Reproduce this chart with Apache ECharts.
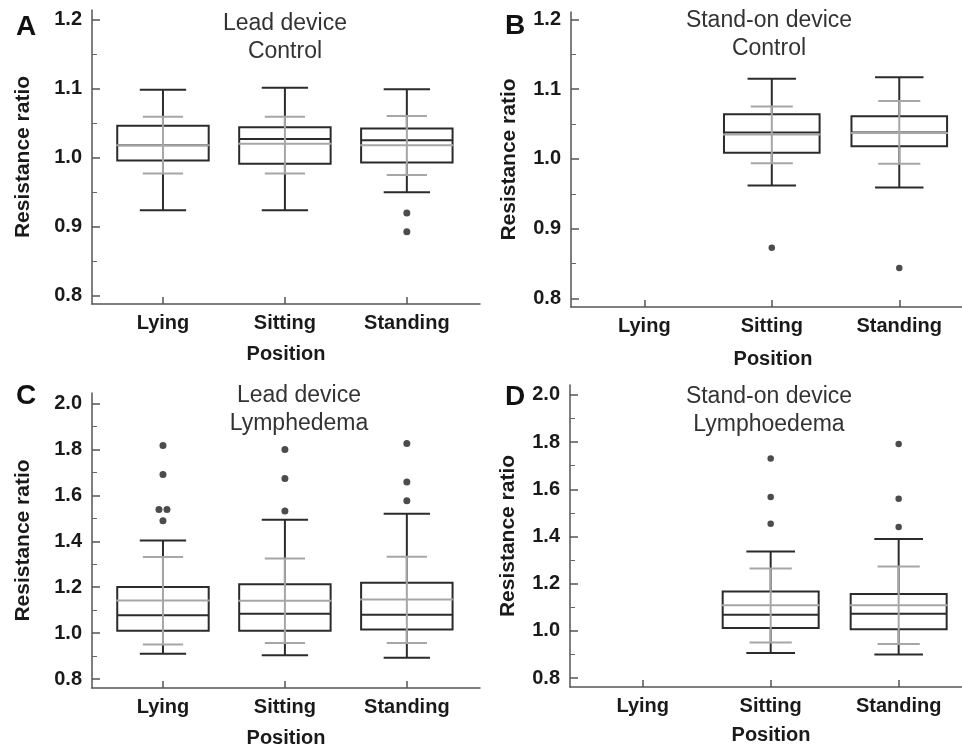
<!DOCTYPE html>
<html>
<head>
<meta charset="utf-8">
<script src="https://cdn.jsdelivr.net/npm/echarts@6/dist/echarts.min.js"></script>
<style>
html,body{margin:0;padding:0;background:#fff;}
#chart{width:962px;height:749px;}
</style>
</head>
<body>
<div id="chart"></div>
<script>
// ---- categories and tick labels ----
const categories = ['Lying', 'Sitting', 'Standing'];
const ticksControl = [0.8, 0.9, 1.0, 1.1, 1.2];
const minorControl = [0.85, 0.95, 1.05, 1.15];
const ticksLymph = [0.8, 1.0, 1.2, 1.4, 1.6, 1.8, 2.0];
const minorLymph = [0.9, 1.1, 1.3, 1.5, 1.7, 1.9];

// ---- Panel A: Lead device, Control (Lying, Sitting, Standing) ----
const aPos = [1, 2, 3];
const aLowWhisker = [0.924, 0.924, 0.950];
const aSdLow = [0.977, 0.977, 0.975];
const aQ1 = [0.996, 0.991, 0.993];
const aMedian = [1.018, 1.027, 1.025];
const aMean = [1.018, 1.020, 1.018];
const aQ3 = [1.046, 1.044, 1.042];
const aSdHigh = [1.059, 1.059, 1.060];
const aHighWhisker = [1.098, 1.101, 1.099];
const aOutliers = [[], [], [0.920, 0.893]];

// ---- Panel B: Stand-on device, Control (Sitting, Standing) ----
const bPos = [2, 3];
const bLowWhisker = [0.962, 0.959];
const bSdLow = [0.994, 0.993];
const bQ1 = [1.009, 1.018];
const bMedian = [1.038, 1.038];
const bMean = [1.035, 1.037];
const bQ3 = [1.064, 1.061];
const bSdHigh = [1.075, 1.083];
const bHighWhisker = [1.115, 1.117];
const bOutliers = [[0.873], [0.844]];

// ---- Panel C: Lead device, Lymphedema ----
const cPos = [1, 2, 3];
const cLowWhisker = [0.910, 0.904, 0.893];
const cSdLow = [0.951, 0.957, 0.957];
const cQ1 = [1.010, 1.010, 1.016];
const cMedian = [1.078, 1.084, 1.080];
const cMean = [1.142, 1.141, 1.146];
const cQ3 = [1.201, 1.213, 1.219];
const cSdHigh = [1.332, 1.325, 1.333];
const cHighWhisker = [1.403, 1.494, 1.520];
const cOutliers = [[1.817, 1.691, 1.539, 1.539, 1.490], [1.800, 1.674, 1.532], [1.826, 1.658, 1.577]];

// ---- Panel D: Stand-on device, Lymphoedema ----
const dPos = [2, 3];
const dLowWhisker = [0.906, 0.900];
const dSdLow = [0.951, 0.944];
const dQ1 = [1.012, 1.007];
const dMedian = [1.068, 1.072];
const dMean = [1.108, 1.108];
const dQ3 = [1.167, 1.156];
const dSdHigh = [1.264, 1.273];
const dHighWhisker = [1.336, 1.389];
const dOutliers = [[1.730, 1.567, 1.454], [1.792, 1.560, 1.440]];

// ---- build helpers ----
function boxRows(pos, lo, sdl, q1, med, mean, q3, sdh, hi) {
  return pos.map((p, i) => [p, lo[i], sdl[i], q1[i], med[i], mean[i], q3[i], sdh[i], hi[i]]);
}
function outlierRows(pos, outs, spread) {
  const rows = [];
  pos.forEach((p, i) => {
    const vals = outs[i];
    vals.forEach((v, j) => {
      const same = vals.filter(w => w === v);
      const k = vals.slice(0, j).filter(w => w === v).length;
      const off = same.length > 1 ? (k - (same.length - 1) / 2) * spread : 0;
      rows.push({ value: [p, v], symbolOffset: [off, 0] });
    });
  });
  return rows;
}

const BLACK = '#2b2b2b';
const GRAY = '#a6a6a6';
const FONT = '"Liberation Sans", Arial, Helvetica, sans-serif';

function renderBox(params, api) {
  const x = api.value(0);
  const unit = api.size([1, 0])[0];
  const bw = unit * 0.375, ww = unit * 0.19, gw = unit * 0.165;
  const cx = api.coord([x, api.value(1)])[0];
  const y = i => api.coord([x, api.value(i)])[1];
  const blk = { stroke: BLACK, lineWidth: 2 };
  const gry = { stroke: GRAY, lineWidth: 2 };
  const hl = (yy, w, st) => ({ type: 'line', shape: { x1: cx - w, y1: yy, x2: cx + w, y2: yy }, style: st });
  return {
    type: 'group',
    children: [
      { type: 'line', shape: { x1: cx, y1: y(1), x2: cx, y2: y(8) }, style: blk },
      hl(y(1), ww, blk),
      hl(y(8), ww, blk),
      { type: 'rect', shape: { x: cx - bw, y: y(6), width: 2 * bw, height: y(3) - y(6) }, style: { fill: '#fff', stroke: BLACK, lineWidth: 2 } },
      hl(y(4), bw, blk),
      { type: 'line', shape: { x1: cx, y1: y(2), x2: cx, y2: y(7) }, style: gry },
      hl(y(2), gw, gry),
      hl(y(7), gw, gry),
      hl(y(5), bw + 1, gry)
    ]
  };
}

const panels = [
  { grid: { left: 92, top: 10, width: 388, height: 294 }, xr: [0.418, 3.6], yr: [0.7884, 1.2134],
    ticks: ticksControl, minor: minorControl, pos: aPos,
    box: boxRows(aPos, aLowWhisker, aSdLow, aQ1, aMedian, aMean, aQ3, aSdHigh, aHighWhisker),
    out: outlierRows(aPos, aOutliers, 8), dot: 7, xGap: 40, yGap: 58 },
  { grid: { left: 571, top: 12, width: 404, height: 295 }, xr: [0.425, 3.594], yr: [0.788, 1.2104],
    ticks: ticksControl, minor: minorControl, pos: bPos,
    box: boxRows(bPos, bLowWhisker, bSdLow, bQ1, bMedian, bMean, bQ3, bSdHigh, bHighWhisker),
    out: outlierRows(bPos, bOutliers, 8), dot: 6.5, xGap: 42, yGap: 51 },
  { grid: { left: 92, top: 393, width: 388, height: 295 }, xr: [0.418, 3.6], yr: [0.761, 2.046],
    ticks: ticksLymph, minor: minorLymph, pos: cPos,
    box: boxRows(cPos, cLowWhisker, cSdLow, cQ1, cMedian, cMean, cQ3, cSdHigh, cHighWhisker),
    out: outlierRows(cPos, cOutliers, 8), dot: 7, xGap: 40, yGap: 58 },
  { grid: { left: 570, top: 385, width: 402, height: 302 }, xr: [0.432, 3.573], yr: [0.762, 2.042],
    ticks: ticksLymph, minor: minorLymph, pos: dPos,
    box: boxRows(dPos, dLowWhisker, dSdLow, dQ1, dMedian, dMean, dQ3, dSdHigh, dHighWhisker),
    out: outlierRows(dPos, dOutliers, 8), dot: 6.5, xGap: 38, yGap: 51 }
];

const grids = [], xAxes = [], yAxes = [], series = [];
panels.forEach((p, i) => {
  grids.push(Object.assign({ containLabel: false, outerBoundsMode: 'none' }, p.grid));
  xAxes.push({
    type: 'value', gridIndex: i, min: p.xr[0], max: p.xr[1],
    name: 'Position', nameLocation: 'middle', nameGap: p.xGap,
    nameTextStyle: { fontFamily: FONT, fontSize: 20, fontWeight: 'bold', color: '#1a1a1a' },
    axisLine: { show: true, onZero: false, lineStyle: { color: '#555', width: 1.5 } },
    axisTick: { show: true, inside: true, length: 7, customValues: [1, 2, 3], lineStyle: { color: '#555', width: 1.5 } },
    axisLabel: { show: true, customValues: [1, 2, 3], margin: 9, formatter: v => categories[Math.round(v) - 1],
      fontFamily: FONT, fontSize: 20, fontWeight: 'bold', color: '#1a1a1a' },
    splitLine: { show: false }
  });
  yAxes.push({
    type: 'value', gridIndex: i, position: 'left', min: p.yr[0], max: p.yr[1],
    name: 'Resistance ratio', nameLocation: 'middle', nameGap: p.yGap,
    nameTextStyle: { fontFamily: FONT, fontSize: 21, fontWeight: 'bold', color: '#1a1a1a' },
    axisLine: { show: true, onZero: false, lineStyle: { color: '#555', width: 1.5 } },
    axisTick: { show: true, inside: true, length: 8, customValues: p.ticks, lineStyle: { color: '#555', width: 1.5 } },
    axisLabel: { show: true, customValues: p.ticks, margin: 10, formatter: v => v.toFixed(1),
      fontFamily: FONT, fontSize: 20, fontWeight: 'bold', color: '#1a1a1a' },
    splitLine: { show: false }
  });
  yAxes.push({
    type: 'value', gridIndex: i, position: 'left', min: p.yr[0], max: p.yr[1],
    axisLine: { show: false },
    axisTick: { show: true, inside: true, length: 5, customValues: p.minor, lineStyle: { color: '#666', width: 1 } },
    axisLabel: { show: false },
    splitLine: { show: false }
  });
  series.push({
    type: 'custom', xAxisIndex: i, yAxisIndex: 2 * i, renderItem: renderBox,
    encode: { x: 0, y: [1, 8] }, data: p.box, clip: false, silent: true
  });
  series.push({
    type: 'scatter', xAxisIndex: i, yAxisIndex: 2 * i, data: p.out,
    symbol: 'circle', symbolSize: p.dot, itemStyle: { color: '#1f1f1f' }, silent: true
  });
});

const txt = (x, y, text, size, weight, color) => ({
  type: 'text', x: x, y: y,
  style: { text: text, fontFamily: FONT, fontSize: size, fontWeight: weight, fill: color,
    textAlign: 'center', textVerticalAlign: 'middle', lineHeight: 28 }
});

const chart = echarts.init(document.getElementById('chart'), null, { renderer: 'canvas' });
chart.setOption({
  animation: false,
  backgroundColor: '#fff',
  grid: grids,
  xAxis: xAxes,
  yAxis: yAxes,
  series: series,
  graphic: [
    txt(26, 27, 'A', 28, 'bold', '#111'),
    txt(515, 26, 'B', 28, 'bold', '#111'),
    txt(26, 396, 'C', 28, 'bold', '#111'),
    txt(515, 397, 'D', 28, 'bold', '#111'),
    txt(285, 38, 'Lead device\nControl', 23, 'normal', '#333'),
    txt(769, 35, 'Stand-on device\nControl', 23, 'normal', '#333'),
    txt(299, 410, 'Lead device\nLymphedema', 23, 'normal', '#333'),
    txt(769, 411, 'Stand-on device\nLymphoedema', 23, 'normal', '#333')
  ]
});
</script>
</body>
</html>
